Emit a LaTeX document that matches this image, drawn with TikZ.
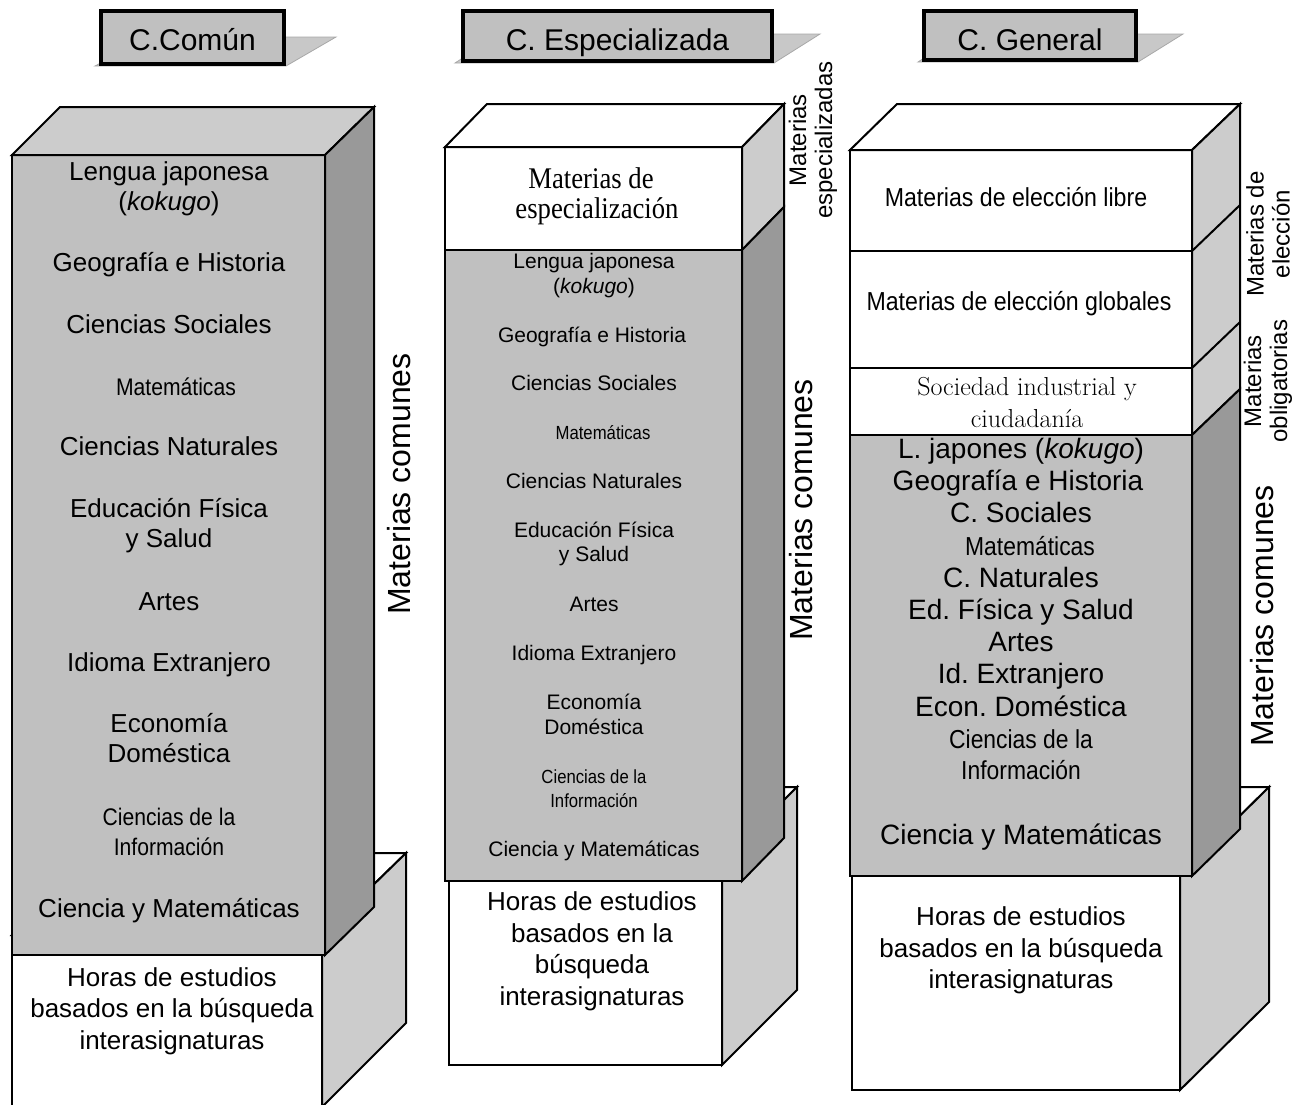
\documentclass[tikz,border=0pt]{standalone}
\usepackage{fontspec}
\newfontfamily\arial{Liberation Sans}
\newfontfamily\arialcond[FakeStretch=0.88]{Liberation Sans}
\newfontfamily\arialnarrow[FakeStretch=0.89]{Liberation Sans}
\newfontfamily\timescond[FakeStretch=0.89]{Liberation Serif}
\newcommand\fsz[2]{\fontsize{#1}{#2}\selectfont}
\definecolor{frontg}{HTML}{C0C0C0}
\definecolor{topg}{HTML}{CCCCCC}
\definecolor{sided}{HTML}{999999}
\definecolor{sidel}{HTML}{CCCCCC}
\definecolor{shad}{HTML}{C8C8C8}
\definecolor{shadline}{HTML}{A8A8A8}
\frenchspacing
\begin{document}
\frenchspacing
\begin{tikzpicture}[x=1pt,y=-1pt,line join=miter]
\tikzset{
  face/.style={draw=black,line width=2pt},
  titlebox/.style={draw=black,line width=3.5pt,fill=frontg},
  shadowpoly/.style={fill=shad,draw=shadline,line width=0.8pt},
  txt/.style={inner sep=0pt,align=center,text=black},
  bl/.style={txt,anchor=base},
  ttl/.style={bl,font=\arial\fsz{30}{36}},
  lbl/.style={bl,font=\arial\fsz{26}{31}},
  lcond/.style={bl,font=\arialcond\fsz{24}{30}},
  mlbl/.style={bl,font=\arial\fsz{21}{25}},
  mcond/.style={bl,font=\arialcond\fsz{19}{24}},
  rlbl/.style={bl,font=\arial\fsz{28}{32}},
  rcond/.style={bl,font=\arialcond\fsz{26}{31}},
  base/.style={bl,font=\arial\fsz{26}{32}},
  sidelbl/.style={txt,rotate=90,font=\arial\fsz{24}{26}},
  bigside/.style={txt,rotate=90,font=\arial\fsz{32}{36}},
}
\useasboundingbox (0,0) rectangle (1297,1104);
\clip (0,0) rectangle (1297,1104);
\fill[white] (0,0) rectangle (1297,1104);

% ---------------- Titles ----------------
\fill[shadowpoly] (95,66) -- (286,66) -- (336,37) -- (150,37) -- cycle;
\node[titlebox,minimum width=183pt,minimum height=53pt,inner sep=0pt] (tcomun) at (192.5,37.5) {};
\node[ttl] (tcomunt) at (192.5,50) {C.Común};

\fill[shadowpoly] (455,63) -- (774,63) -- (820,34) -- (500,34) -- cycle;
\node[titlebox,minimum width=309pt,minimum height=50pt,inner sep=0pt] (tesp) at (617.5,36) {};
\node[ttl] (tespt) at (617.5,50) {C. Especializada};

\fill[shadowpoly] (918,62) -- (1138,62) -- (1183,34) -- (960,34) -- cycle;
\node[titlebox,minimum width=212pt,minimum height=49pt,inner sep=0pt] (tgen) at (1030,35.5) {};
\node[ttl] (tgent) at (1030,50) {C. General};

% ---------------- Left column ----------------
\filldraw[face,fill=white] (12,935) -- (322,935) -- (322,1120) -- (12,1120) -- cycle;
\filldraw[face,fill=white] (12,935) -- (96,853) -- (406,853) -- (322,935) -- cycle;
\filldraw[face,fill=sidel] (322,935) -- (406,853) -- (406,1023) -- (322,1107) -- cycle;
\filldraw[face,fill=frontg] (12,155) -- (325,155) -- (325,955) -- (12,955) -- cycle;
\filldraw[face,fill=topg] (12,155) -- (60,107) -- (374,107) -- (325,155) -- cycle;
\filldraw[face,fill=sided] (325,155) -- (374,107) -- (374,907) -- (325,955) -- cycle;

\node[lbl] (l1a) at (169,180) {Lengua japonesa};
\node[lbl] (l1b) at (169,210) {(\textit{kokugo})};
\node[lbl] (l2) at (169,271) {Geografía e Historia};
\node[lbl] (l3) at (169,333) {Ciencias Sociales};
\node[lcond] (l4) at (176,395) {Matemáticas};
\node[lbl] (l5) at (169,455) {Ciencias Naturales};
\node[lbl] (l6a) at (169,517) {Educación Física};
\node[lbl] (l6b) at (169,547) {y Salud};
\node[lbl] (l7) at (169,610) {Artes};
\node[lbl] (l8) at (169,671) {Idioma Extranjero};
\node[lbl] (l9a) at (169,732) {Economía};
\node[lbl] (l9b) at (169,762) {Doméstica};
\node[lcond] (l10a) at (169,825) {Ciencias de la};
\node[lcond] (l10b) at (169,855) {Información};
\node[lbl] (l11) at (169,917) {Ciencia y Matemáticas};
\node[base] (lb1) at (172,986) {Horas de estudios};
\node[base] (lb2) at (172,1017) {basados en la búsqueda};
\node[base] (lb3) at (172,1049) {interasignaturas};
\node[bigside] (lside) at (399,484) {Materias comunes};

% ---------------- Middle column ----------------
\filldraw[face,fill=white] (449,862) -- (722,862) -- (722,1065) -- (449,1065) -- cycle;
\filldraw[face,fill=white] (449,862) -- (524,787) -- (797,787) -- (722,862) -- cycle;
\filldraw[face,fill=sidel] (722,862) -- (797,787) -- (797,990) -- (722,1065) -- cycle;

\filldraw[face,fill=white] (445,147) -- (742,147) -- (742,250) -- (445,250) -- cycle;
\filldraw[face,fill=frontg] (445,250) -- (742,250) -- (742,881) -- (445,881) -- cycle;
\filldraw[face,fill=white] (445,147) -- (487,104) -- (784,104) -- (742,147) -- cycle;
\filldraw[face,fill=sidel] (742,147) -- (784,104) -- (784,207) -- (742,250) -- cycle;
\filldraw[face,fill=sided] (742,250) -- (784,207) -- (784,838) -- (742,881) -- cycle;

\node[bl,font=\timescond\fsz{30}{33}] (mtopa) at (591,188) {Materias de};
\node[bl,font=\timescond\fsz{30}{33}] (mtopb) at (597,218) {especialización};
\node[mlbl] (m1a) at (594,268) {Lengua japonesa};
\node[mlbl] (m1b) at (594,293) {(\textit{kokugo})};
\node[mlbl] (m2) at (592,342) {Geografía e Historia};
\node[mlbl] (m3) at (594,390) {Ciencias Sociales};
\node[mcond] (m4) at (603,439) {Matemáticas};
\node[mlbl] (m5) at (594,488) {Ciencias Naturales};
\node[mlbl] (m6a) at (594,537) {Educación Física};
\node[mlbl] (m6b) at (594,561) {y Salud};
\node[mlbl] (m7) at (594,611) {Artes};
\node[mlbl] (m8) at (594,660) {Idioma Extranjero};
\node[mlbl] (m9a) at (594,709) {Economía};
\node[mlbl] (m9b) at (594,734) {Doméstica};
\node[mcond] (m10a) at (594,783) {Ciencias de la};
\node[mcond] (m10b) at (594,807) {Información};
\node[mlbl] (m11) at (594,856) {Ciencia y Matemáticas};
\node[base] (mb1) at (592,910) {Horas de estudios};
\node[base] (mb2) at (592,942) {basados en la};
\node[base] (mb3) at (592,973) {búsqueda};
\node[base] (mb4) at (592,1005) {interasignaturas};
\node[sidelbl] (mspec) at (813,140) {Materias\\especializadas};
\node[bigside] (mside) at (801,510) {Materias comunes};

% ---------------- Right column ----------------
\filldraw[face,fill=white] (852,875) -- (1180,875) -- (1180,1090) -- (852,1090) -- cycle;
\filldraw[face,fill=white] (852,875) -- (941,787) -- (1269,787) -- (1180,875) -- cycle;
\filldraw[face,fill=sidel] (1180,875) -- (1269,787) -- (1269,1002) -- (1180,1090) -- cycle;

\filldraw[face,fill=white] (850,150) -- (1192,150) -- (1192,251) -- (850,251) -- cycle;
\filldraw[face,fill=white] (850,251) -- (1192,251) -- (1192,368) -- (850,368) -- cycle;
\filldraw[face,fill=white] (850,368) -- (1192,368) -- (1192,435) -- (850,435) -- cycle;
\filldraw[face,fill=frontg] (850,435) -- (1192,435) -- (1192,876) -- (850,876) -- cycle;
\filldraw[face,fill=white] (850,150) -- (897,104) -- (1240,104) -- (1192,150) -- cycle;
\filldraw[face,fill=sidel] (1192,150) -- (1240,104) -- (1240,389) -- (1192,435) -- cycle;
\draw[face] (1192,251) -- (1240,205);
\draw[face] (1192,368) -- (1240,322);
\filldraw[face,fill=sided] (1192,435) -- (1240,389) -- (1240,829) -- (1192,876) -- cycle;

\node[bl,font=\arialnarrow\fsz{26}{30}] (re1) at (1016,206) {Materias de elección libre};
\node[bl,font=\arialnarrow\fsz{26}{30}] (re2) at (1019,310) {Materias de elección globales};
\node[bl,font=\rmfamily\addfontfeature{LetterSpace=3}\fsz{26}{31}] (rsoca) at (1027,395) {Sociedad industrial y};
\node[bl,font=\rmfamily\addfontfeature{LetterSpace=3}\fsz{26}{31}] (rsocb) at (1027,427) {ciudadanía};
\node[rlbl] (r1) at (1021,458) {L. japones (\textit{kokugo})};
\node[rlbl] (r2) at (1018,490) {Geografía e Historia};
\node[rlbl] (r3) at (1021,522) {C. Sociales};
\node[rcond] (r4) at (1030,555) {Matemáticas};
\node[rlbl] (r5) at (1021,587) {C. Naturales};
\node[rlbl] (r6) at (1021,619) {Ed. Física y Salud};
\node[rlbl] (r7) at (1021,651) {Artes};
\node[rlbl] (r8) at (1021,683) {Id. Extranjero};
\node[rlbl] (r9) at (1021,716) {Econ. Doméstica};
\node[rcond] (r10a) at (1021,748) {Ciencias de la};
\node[rcond] (r10b) at (1021,779) {Información};
\node[rlbl] (r11) at (1021,844) {Ciencia y Matemáticas};
\node[base] (rb1) at (1021,925) {Horas de estudios};
\node[base] (rb2) at (1021,957) {basados en la búsqueda};
\node[base] (rb3) at (1021,988) {interasignaturas};
\node[sidelbl] (relec) at (1268,234) {Materias de\\elección};
\node[sidelbl] (roblig) at (1268,381) {Materias\\obligatorias};
\node[bigside] (rside) at (1262,616) {Materias comunes};
\end{tikzpicture}
\end{document}
